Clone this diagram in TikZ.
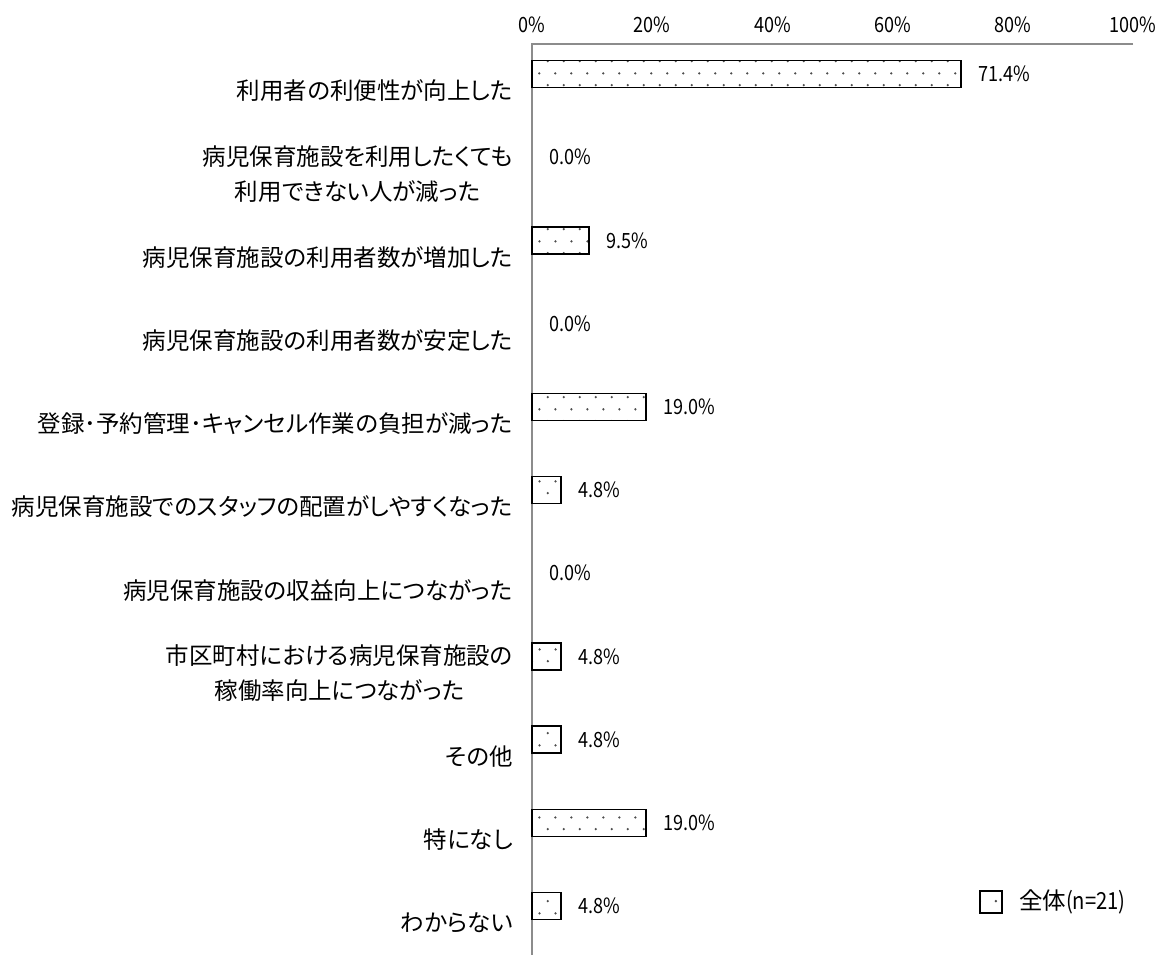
\documentclass[tikz,border=0pt]{standalone}
\usepackage{fontspec}
\setmainfont[RawFeature=+palt]{Noto Sans CJK JP}
\newfontfamily\numfont[FakeStretch=0.86]{Noto Sans CJK JP}
\usetikzlibrary{patterns.meta, positioning}
\tikzdeclarepattern{
  name=sparsedots,
  type=uncolored,
  bounding box={(0pt,0pt) and (16pt,24pt)},
  tile size={(16pt,24pt)},
  code={
    \fill (4pt,6pt) circle (1.3pt);
    \fill (12pt,18pt) circle (1.3pt);
  }
}
\tikzset{
  axisline/.style={draw=black!45,line width=1.5pt},
  bar/.style={draw=black,line width=1.6pt,pattern=sparsedots,pattern color=black!70},
  catlabel/.style={anchor=east,inner sep=0pt,align=center,font=\fontsize{23.5}{35}\selectfont},
  vallabel/.style={inner sep=0pt,font=\numfont\fontsize{21}{23}\selectfont},
  ticklabel/.style={inner sep=0pt,font=\numfont\fontsize{21}{23}\selectfont},
}

\begin{document}
\begin{tikzpicture}[x=1pt,y=-1pt]
  \useasboundingbox (0,0) rectangle (1162,955);
  % axes
  \coordinate (origin) at (532,44);
  \coordinate (xend) at (1133,44);
  \coordinate (yend) at (532,955);
  \draw[axisline] (xend) -- (origin) -- (yend);
  \foreach \p in {0,20,...,100}
    \node[ticklabel] (tick\p) at (532+6.01*\p,25) {\p\%};
  % bars, values and categories
  \foreach \val/\lab [count=\i from 0] in {
      71.4/{利用者の利便性が向上した},
      0.0/{病児保育施設を利用したくても\\利用できない人が減った},
      9.5/{病児保育施設の利用者数が増加した},
      0.0/{病児保育施設の利用者数が安定した},
      19.0/{登録･予約管理･キャンセル作業の負担が減った},
      4.8/{病児保育施設でのスタッフの配置がしやすくなった},
      0.0/{病児保育施設の収益向上につながった},
      4.8/{市区町村における病児保育施設の\\稼働率向上につながった},
      4.8/{その他},
      19.0/{特になし},
      4.8/{わからない}}{
    \pgfmathsetmacro{\yc}{74+83.2*\i}
    \pgfmathsetmacro{\xe}{532+6.01*\val}
    \coordinate (end\i) at (\xe,\yc);
    \ifdim\val pt>0pt
      \draw[bar] (532,\yc-13.5) rectangle (\xe,\yc+13.5);
    \fi
    \node[vallabel,right=17pt of end\i] (val\i) {\val\%};
    \node[catlabel] (cat\i) at (513,\yc+17) {\lab};
  }
  % legend
  \node[bar,minimum size=22pt,inner sep=0pt] (legbox) at (991,902) {};
  \node[right=16pt of legbox,inner sep=0pt,font=\fontsize{23.5}{25}\selectfont] (legtext)
    {全体{\numfont(n=21)}};
\end{tikzpicture}
\end{document}
